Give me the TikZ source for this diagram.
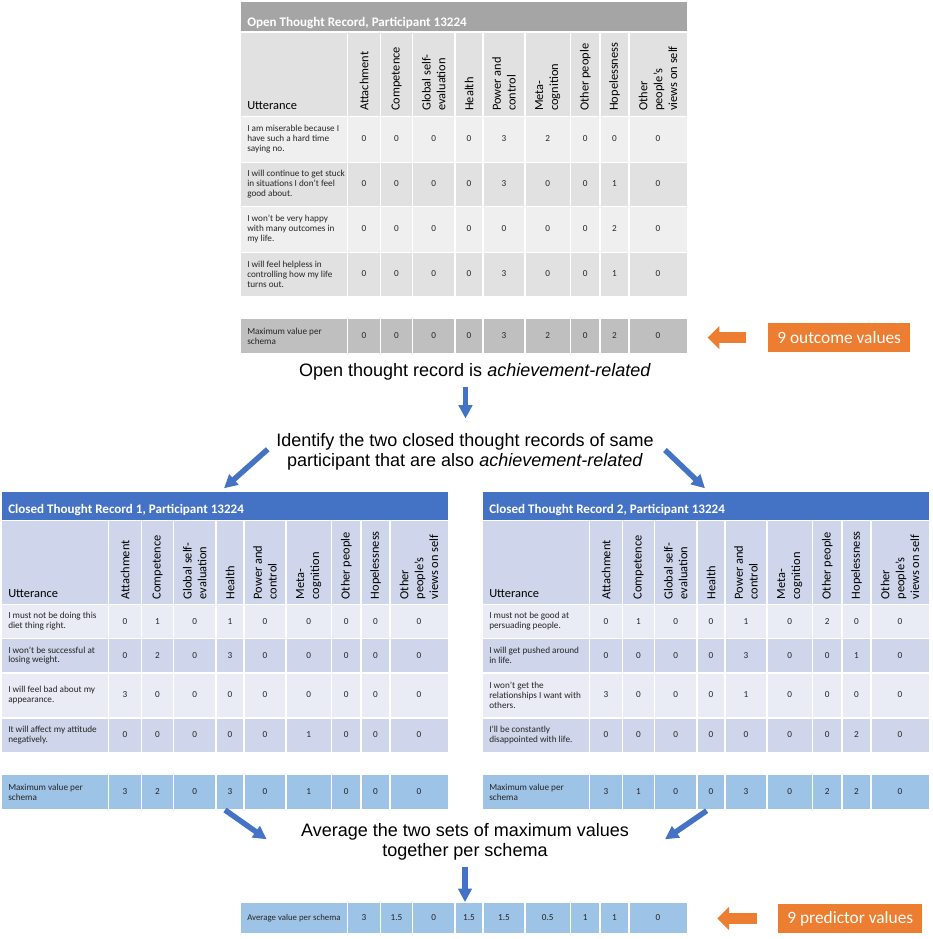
\documentclass[tikz,border=0pt]{standalone}
\usepackage{fontspec}
\setmainfont{Carlito}
\newfontfamily\arialfont{Liberation Sans}
\usepackage{tikz}
\usetikzlibrary{arrows.meta,positioning}
\definecolor{opentitlecol}{HTML}{A5A5A5}
\definecolor{openheadcol}{HTML}{E1E1E1}
\definecolor{openrowa}{HTML}{EFEFEF}
\definecolor{openrowb}{HTML}{E1E1E1}
\definecolor{openmaxcol}{HTML}{BFBFBF}
\definecolor{closedtitlecol}{HTML}{4472C4}
\definecolor{closedheadcol}{HTML}{CFD5EA}
\definecolor{closedrowa}{HTML}{E9EBF5}
\definecolor{closedrowb}{HTML}{CFD5EA}
\definecolor{maxblue}{HTML}{9DC3E6}
\definecolor{arrowblue}{HTML}{4472C4}
\definecolor{tagorange}{HTML}{ED7D31}
\newcommand\utterfont{\fontsize{6.9}{7.4}\selectfont}
\newcommand\avgfont{\fontsize{6.6}{7.4}\selectfont}
\newcommand\colheadfont{\fontsize{9.3}{11.2}\selectfont}
\newcommand\rectitlefont{\fontsize{9.8}{11}\selectfont\bfseries}
\newcommand\stepnotefont{\arialfont\fontsize{13.5}{15}\selectfont}
\newcommand\tagfont{\fontsize{13}{15}\selectfont}
\newcommand\schemalabels{123/Attachment, 155.5/Competence, 192.75/{Global self-\\evaluation}, 228/Health, 263/{Power and\\control}, 306.75/{Meta-\\cognition}, 344.25/{Other people}, 373.5/Hopelessness, 417/{Other\\people’s\\views on self}}
\newcommand\schemacx{{123,155.5,192.75,228,263,306.75,344.25,373.5,417}}
\newcommand\schemadiv{106.5,139.5,171.5,214,242,284,329.5,359,388}
\tikzset{
  cellgap/.style={white, line width=1.1pt},
  rectitle/.style={font=\rectitlefont, text=white, anchor=base west, inner sep=0pt},
  utterhead/.style={font=\colheadfont, anchor=base west, inner sep=0pt},
  colhead/.style={font=\colheadfont, rotate=90, anchor=west, align=left, inner sep=0pt},
  utter/.style={font=\utterfont, text=black!85, anchor=west, align=left, inner sep=0pt},
  cellval/.style={font=\utterfont, text=black!85, inner sep=0pt},
  stepnote/.style={font=\stepnotefont, align=center, inner sep=0pt},
  bluearrow/.style={arrowblue, line width=4.1pt, -{Triangle[width=10pt,length=10pt]}},
  tagarrow/.style={tagorange, line width=8.6pt, -{Triangle[width=17pt,length=8.8pt]}},
  tagbox/.style={fill=tagorange, text=white, font=\tagfont, minimum height=22pt, inner sep=0pt}
}

\begin{document}
\begin{tikzpicture}[x=0.75pt,y=-0.75pt]
\useasboundingbox (0,0) rectangle (932,939);

\begin{scope}[shift={(241,0)}]
\fill[opentitlecol] (0,2) rectangle (446,31);
\fill[openheadcol] (0,32.5) rectangle (446,116);
\foreach \ya/\yb/\rc in {117/161.5/openrowa, 162.5/206/openrowb, 207/251.5/openrowa, 252.5/296/openrowb, 319/353/openmaxcol}
  \fill[fill=\rc] (0,\ya) rectangle (446,\yb);
\foreach \dx in \schemadiv
  \draw[cellgap] (\dx,32.5) -- (\dx,353);
\node[rectitle] (open-title) at (6,26) {Open Thought Record, Participant 13224};
\node[utterhead] (open-utt) at (6,109.5) {Utterance};
\foreach \cx/\lab [count=\c] in \schemalabels
  \node[colhead] (open-h\c) at (\cx,111) {\lab};
\foreach \yc/\utt/\vals [count=\r] in {139/{I am miserable because I\\have such a hard time\\saying no.}/{0,0,0,0,3,2,0,0,0}, 184/{I will continue to get stuck\\in situations I don't feel\\good about.}/{0,0,0,0,3,0,0,1,0}, 229/{I won't be very happy\\with many outcomes in\\my life.}/{0,0,0,0,0,0,0,2,0}, 274/{I will feel helpless in\\controlling how my life\\turns out.}/{0,0,0,0,3,0,0,1,0}, 336/{Maximum value per\\schema}/{0,0,0,0,3,2,0,2,0}} {
  \node[utter] (open-u\r) at (6,\yc) {\utt};
  \foreach \v [count=\c] in \vals {
    \pgfmathsetmacro\cx{\schemacx[\c-1]}
    \node[cellval] (open-r\r-c\c) at (\cx,\yc) {\v};
  }
}
\end{scope}

\begin{scope}[shift={(2,0)}]
\fill[closedtitlecol] (0,491.5) rectangle (446,519.5);
\fill[closedheadcol] (0,521) rectangle (446,604);
\foreach \ya/\yb/\rc in {605/637.5/closedrowa, 639/672/closedrowb, 673.5/717/closedrowa, 718.5/752/closedrowb, 775/808.5/maxblue}
  \fill[fill=\rc] (0,\ya) rectangle (446,\yb);
\foreach \dx in \schemadiv
  \draw[cellgap] (\dx,521) -- (\dx,808.5);
\node[rectitle] (first-title) at (6,513) {Closed Thought Record 1, Participant 13224};
\node[utterhead] (first-utt) at (6,597) {Utterance};
\foreach \cx/\lab [count=\c] in \schemalabels
  \node[colhead] (first-h\c) at (\cx,599.5) {\lab};
\foreach \yc/\utt/\vals [count=\r] in {621.5/{I must not be doing this\\diet thing right.}/{0,1,0,1,0,0,0,0,0}, 655.5/{I won't be successful at\\losing weight.}/{0,2,0,3,0,0,0,0,0}, 695/{I will feel bad about my\\appearance.}/{3,0,0,0,0,0,0,0,0}, 735/{It will affect my attitude\\negatively.}/{0,0,0,0,0,1,0,0,0}, 792/{Maximum value per\\schema}/{3,2,0,3,0,1,0,0,0}} {
  \node[utter] (first-u\r) at (6,\yc) {\utt};
  \foreach \v [count=\c] in \vals {
    \pgfmathsetmacro\cx{\schemacx[\c-1]}
    \node[cellval] (first-r\r-c\c) at (\cx,\yc) {\v};
  }
}
\end{scope}

\begin{scope}[shift={(483,0)}]
\fill[closedtitlecol] (0,491.5) rectangle (446,519.5);
\fill[closedheadcol] (0,521) rectangle (446,604);
\foreach \ya/\yb/\rc in {605/637.5/closedrowa, 639/672/closedrowb, 673.5/717/closedrowa, 718.5/752/closedrowb, 775/808.5/maxblue}
  \fill[fill=\rc] (0,\ya) rectangle (446,\yb);
\foreach \dx in \schemadiv
  \draw[cellgap] (\dx,521) -- (\dx,808.5);
\node[rectitle] (second-title) at (6,513) {Closed Thought Record 2, Participant 13224};
\node[utterhead] (second-utt) at (6,597) {Utterance};
\foreach \cx/\lab [count=\c] in \schemalabels
  \node[colhead] (second-h\c) at (\cx,599.5) {\lab};
\foreach \yc/\utt/\vals [count=\r] in {621.5/{I must not be good at\\persuading people.}/{0,1,0,0,1,0,2,0,0}, 655.5/{I will get pushed around\\in life.}/{0,0,0,0,3,0,0,1,0}, 695/{I won't get the\\relationships I want with\\others.}/{3,0,0,0,1,0,0,0,0}, 735/{I'll be constantly\\disappointed with life.}/{0,0,0,0,0,0,0,2,0}, 792/{Maximum value per\\schema}/{3,1,0,0,3,0,2,2,0}} {
  \node[utter] (second-u\r) at (6,\yc) {\utt};
  \foreach \v [count=\c] in \vals {
    \pgfmathsetmacro\cx{\schemacx[\c-1]}
    \node[cellval] (second-r\r-c\c) at (\cx,\yc) {\v};
  }
}
\end{scope}

\begin{scope}[shift={(241,0)}]
\fill[maxblue] (0,903) rectangle (446,933);
\foreach \dx in \schemadiv
  \draw[cellgap] (\dx,903) -- (\dx,933);
\node[utter, font=\avgfont] (avg-label) at (6,918) {Average value per schema};
\foreach \v [count=\c] in {3,1.5,0,1.5,1.5,0.5,1,1,0} {
  \pgfmathsetmacro\cx{\schemacx[\c-1]}
  \node[cellval] (avg-c\c) at (\cx,918) {\v};
}
\end{scope}

\node[stepnote, anchor=base] (open-note) at (475,376) {Open thought record is \textit{achievement-related}};
\node[stepnote] (identify-note) at (465,452) {Identify the two closed thought records of same\\participant that are also \textit{achievement-related}};
\node[stepnote] (average-note) at (465,841.5) {Average the two sets of maximum values\\together per schema};
\node[tagbox, minimum width=106.3pt] (outcome-tag) at (839.2,337.5) {9 outcome values};
\node[tagbox, minimum width=108pt] (predictor-tag) at (850.3,918.5) {9 predictor values};

\coordinate (split-from) at (465.5,387);
\coordinate (split-to) at (465.5,418.5);
\coordinate (left-from) at (267.7,449.3);
\coordinate (left-to) at (224,488.3);
\coordinate (right-from) at (665,450);
\coordinate (right-to) at (705,488.3);
\coordinate (merge-left-from) at (225,810);
\coordinate (merge-left-to) at (266.7,839.3);
\coordinate (merge-right-from) at (706.7,810.7);
\coordinate (merge-right-to) at (665,839.3);
\coordinate (avg-from) at (465,867);
\coordinate (avg-to) at (465,902);
\coordinate (outcome-tip) at (707.7,337.5);
\coordinate (predictor-tip) at (717.3,918.5);

\draw[bluearrow] (split-from) -- (split-to);
\draw[bluearrow] (left-from) -- (left-to);
\draw[bluearrow] (right-from) -- (right-to);
\draw[bluearrow] (merge-left-from) -- (merge-left-to);
\draw[bluearrow] (merge-right-from) -- (merge-right-to);
\draw[bluearrow] (avg-from) -- (avg-to);
\draw[tagarrow, shorten <=16.2pt] (outcome-tag.west) -- (outcome-tip);
\draw[tagarrow, shorten <=15.75pt] (predictor-tag.west) -- (predictor-tip);
\end{tikzpicture}
\end{document}
